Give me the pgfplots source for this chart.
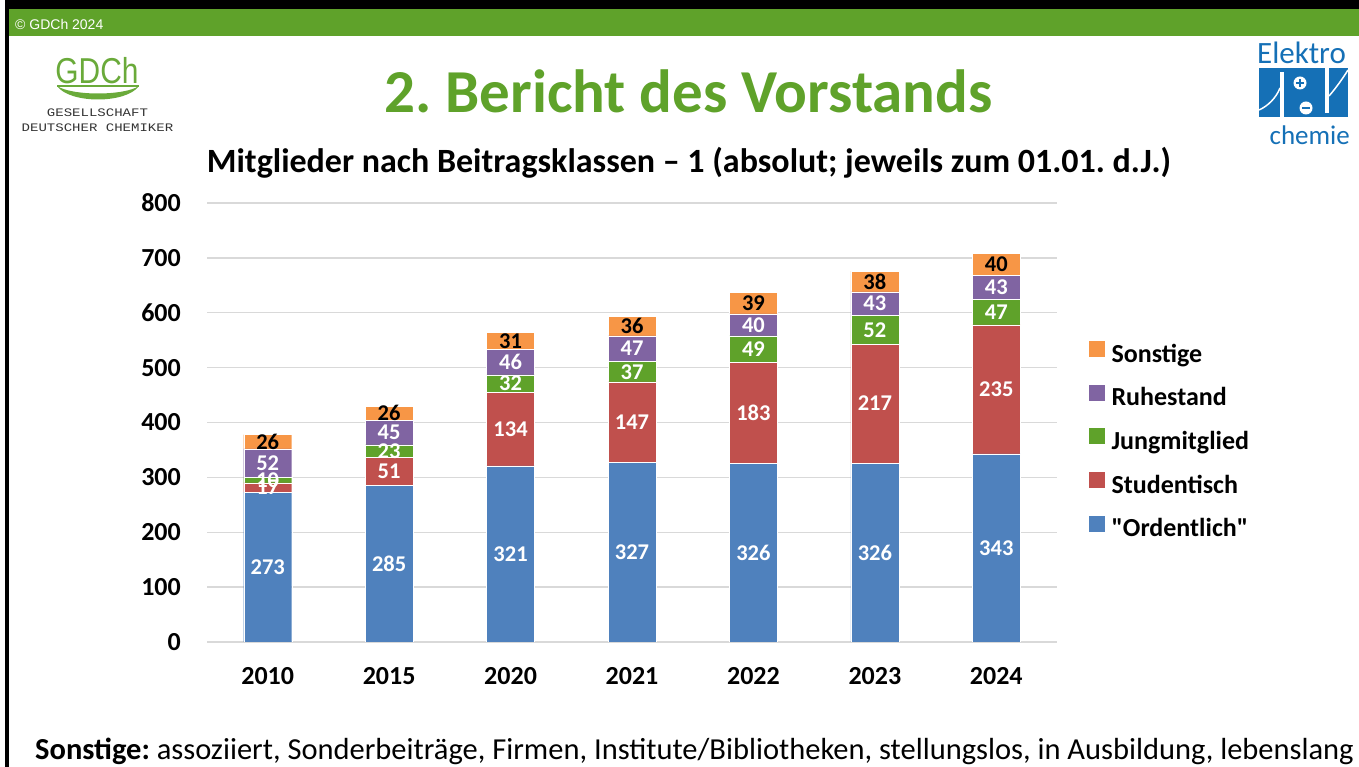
\documentclass[border=0pt]{standalone}
\usepackage{fontspec}
\setmainfont{Carlito}
\newfontfamily\arialfont{Liberation Sans}
\newfontfamily\gmono{Liberation Mono}
\usepackage{pgfplots}
\pgfplotsset{compat=1.18}
\definecolor{gdgreen}{HTML}{5FA22A}
\definecolor{logogreen}{HTML}{6AAA3A}
\definecolor{ecblue}{HTML}{1570B6}
\definecolor{cBlue}{HTML}{4F81BD}
\definecolor{cRed}{HTML}{C0504D}
\definecolor{cGreen}{HTML}{5FA22A}
\definecolor{cPurple}{HTML}{8064A2}
\definecolor{cOrange}{HTML}{F79646}
\definecolor{gridgray}{HTML}{D9D9D9}
\newcommand\fs[1]{\fontsize{#1}{#1}\selectfont}
\pgfplotsset{sqleg/.style={legend image code/.code={\fill[#1] (0pt,0pt) rectangle (15pt,15pt);}}}
\frenchspacing
\begin{document}
\begin{tikzpicture}[x=1pt,y=1pt]
\useasboundingbox (0,0) rectangle (1359,767);
% frame and header bar
\fill[black] (5,767) rectangle (1359,758);
\fill[gdgreen] (9,758) rectangle (1359,731);
\fill[black] (5,0) rectangle (8.5,758);
\node[anchor=base west, font=\arialfont\fs{14}, text=white, inner sep=0pt] at (15,737) {© GDCh 2024};
% GDCh logo
\node[anchor=base, font=\arialfont\fs{36}, text=logogreen, xscale=0.83, inner sep=0pt] at (97,683) {GDCh};
\draw[logogreen, line width=1.2] (57,681) -- (139,681);
\fill[logogreen] (57,681) .. controls (70,663) and (126,663) .. (139,681) .. controls (124,671) and (72,671) .. (57,681) -- cycle;
\node[anchor=base, font=\gmono\fs{11.5}, text=black!80, xscale=1.22, inner sep=0pt] at (97.5,650) {GESELLSCHAFT};
\node[anchor=base, font=\gmono\fs{11.5}, text=black!80, xscale=1.22, inner sep=0pt] at (97.5,635) {DEUTSCHER CHEMIKER};
% Elektrochemie logo
\node[anchor=base west, font=\fs{31}, text=ecblue, inner sep=0pt] at (1257,703) {Elektro};
\fill[ecblue] (1259,699) rectangle (1348,650);
\fill[white] (1280,650) rectangle (1284,695);
\fill[white] (1325,654) rectangle (1329,699);
\fill[white] (1300,684) circle (6.5);
\draw[ecblue, line width=1.8] (1296,684) -- (1304,684) (1300,680) -- (1300,688);
\fill[white] (1306,659) circle (6.5);
\draw[ecblue, line width=1.8] (1302,659) -- (1310,659);
\draw[white, line width=1.5] (1259,657) .. controls (1268,661) and (1276,669) .. (1280,679);
\draw[white, line width=1.5] (1329,671) .. controls (1336,679) and (1343,689) .. (1348,697);
\node[anchor=base east, font=\fs{27}, text=ecblue, inner sep=0pt] at (1350,622) {chemie};
% titles
\node[anchor=base, font=\bfseries\fs{61}, text=gdgreen, inner sep=0pt] at (688.5,654) {2. Bericht des Vorstands};
\node[anchor=base, font=\bfseries\fs{34}, inner sep=0pt] at (689,594) {Mitglieder nach Beitragsklassen -- 1 (absolut; jeweils zum 01.01. d.J.)};
% chart
\begin{axis}[
  at={(207pt,125pt)}, anchor=south west,
  width=850pt, height=439pt, scale only axis,
  ybar stacked, bar width=48pt,
  xmin=-0.5, xmax=6.5, ymin=0, ymax=800,
  xtick={0,1,2,3,4,5,6},
  xticklabels={2010,2015,2020,2021,2022,2023,2024},
  ytick={0,100,...,800},
  yticklabels={0,100,200,300,400,500,600,700,800},
  ymajorgrids, grid style={gridgray, line width=1.3pt},
  axis line style={draw=none},
  major tick style={draw=none},
  /pgf/number format/assume math mode=true,
  ticklabel style={font=\bfseries\fs{26}, inner sep=0pt},
  yticklabel style={anchor=east, xshift=-26pt},
  xticklabel style={anchor=north, yshift=-25pt},
  nodes near coords,
  point meta=rawy,
  every node near coord/.append style={font=\bfseries\fs{22.5}, anchor=center, inner sep=0pt},
  legend style={at={(1.0376,0.4556)}, anchor=west, draw=none, fill=none, inner sep=0pt, font=\bfseries\fs{26}, row sep=16.5pt, column sep=7pt, nodes={text height=18pt, text depth=6pt, inner sep=0pt}},
  legend cell align=left,
  reverse legend,
]
\addplot[fill=cBlue, draw=white, line width=0.4pt, sqleg=cBlue, every node near coord/.append style={text=white}] coordinates {(0,273) (1,285) (2,321) (3,327) (4,326) (5,326) (6,343)};
\addlegendentry{\textquotedbl Ordentlich\textquotedbl}
\addplot[fill=cRed, draw=white, line width=0.4pt, sqleg=cRed, every node near coord/.append style={text=white}] coordinates {(0,17) (1,51) (2,134) (3,147) (4,183) (5,217) (6,235)};
\addlegendentry{Studentisch}
\addplot[fill=cGreen, draw=white, line width=0.4pt, sqleg=cGreen, every node near coord/.append style={text=white}] coordinates {(0,10) (1,23) (2,32) (3,37) (4,49) (5,52) (6,47)};
\addlegendentry{Jungmitglied}
\addplot[fill=cPurple, draw=white, line width=0.4pt, sqleg=cPurple, every node near coord/.append style={text=white}] coordinates {(0,52) (1,45) (2,46) (3,47) (4,40) (5,43) (6,43)};
\addlegendentry{Ruhestand}
\addplot[fill=cOrange, draw=white, line width=0.4pt, sqleg=cOrange, every node near coord/.append style={text=black}] coordinates {(0,26) (1,26) (2,31) (3,36) (4,39) (5,38) (6,40)};
\addlegendentry{Sonstige}
\end{axis}
% footnote
\node[anchor=base west, font=\fs{30.5}, inner sep=0pt] at (35,7) {\textbf{Sonstige:} assoziiert, Sonderbeiträge, Firmen, Institute/Bibliotheken, stellungslos, in Ausbildung, lebenslang};
\end{tikzpicture}
\end{document}
